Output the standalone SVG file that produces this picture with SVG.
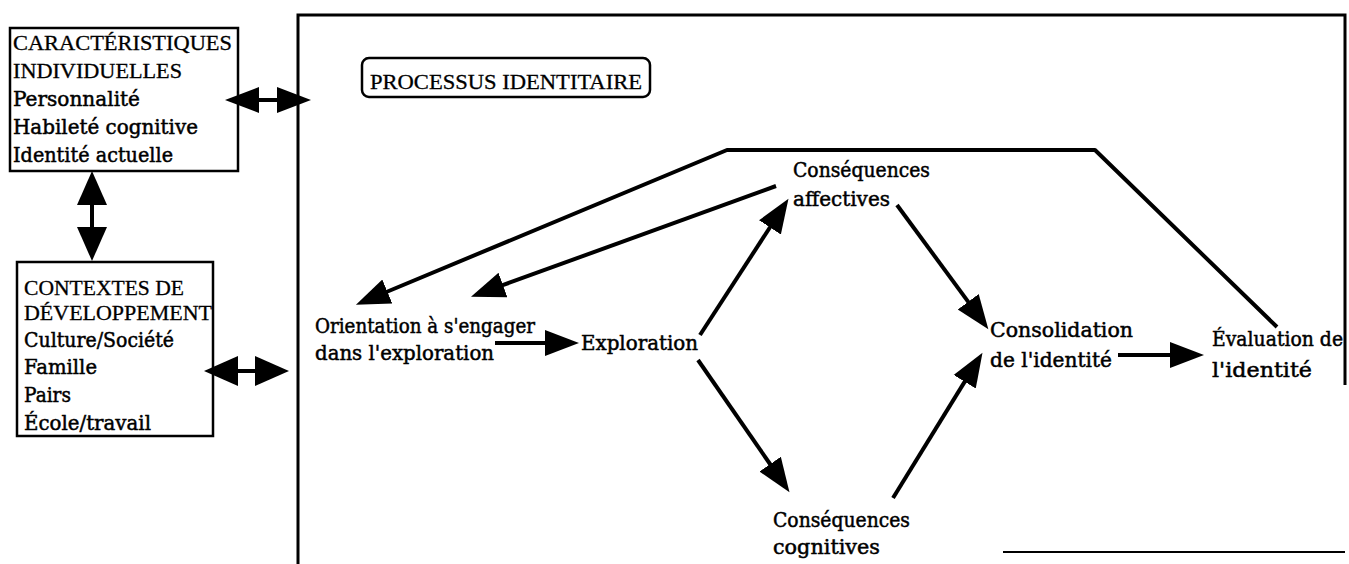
<svg xmlns="http://www.w3.org/2000/svg" width="1349" height="564" viewBox="0 0 1349 564">
<defs>
<style>
.box{fill:#fff;stroke:#000;stroke-width:2.5}
.frame{fill:none;stroke:#000;stroke-width:3}
.t{font-family:"DejaVu Serif","Liberation Serif",serif;font-size:20px;fill:#000;stroke:#000;stroke-width:0.5}
.c{font-family:"Liberation Serif","Times New Roman",serif;font-size:21px;fill:#000;stroke:#000;stroke-width:0.3}
.ln{fill:none;stroke:#000;stroke-width:4;stroke-linejoin:round}
</style>
<marker id="ah" markerUnits="userSpaceOnUse" viewBox="0 -16 36 32" refX="1" refY="0" markerWidth="36" markerHeight="32" orient="auto-start-reverse">
<path d="M0,-13 L34,0 L0,13 z" fill="#000"/>
</marker>
<marker id="ahw" markerUnits="userSpaceOnUse" viewBox="0 -16 36 32" refX="1" refY="0" markerWidth="36" markerHeight="32" orient="auto-start-reverse">
<path d="M0,-15 L34,0 L0,15 z" fill="#000"/>
</marker>
</defs>
<rect width="1349" height="564" fill="#fff"/>

<g id="frame-processus">
<path class="frame" d="M298,564 L298,15 L1345,15 L1345,385"/>
<path d="M1003,552 L1345,552" stroke="#000" stroke-width="2" fill="none"/>
</g>

<g id="node-processus">
<rect x="362" y="58" width="288" height="39" rx="7" fill="#fff" stroke="#000" stroke-width="2.5"/>
<text class="c" x="370" y="89" textLength="272" lengthAdjust="spacingAndGlyphs">PROCESSUS IDENTITAIRE</text>
</g>

<g id="node-caracteristiques">
<rect class="box" x="10" y="28" width="228" height="143"/>
<text class="c" x="13" y="50" textLength="219" lengthAdjust="spacingAndGlyphs">CARACTÉRISTIQUES</text>
<text class="c" x="13" y="78" textLength="169" lengthAdjust="spacingAndGlyphs">INDIVIDUELLES</text>
<text class="t" x="13" y="106" textLength="127" lengthAdjust="spacingAndGlyphs">Personnalité</text>
<text class="t" x="13" y="134" textLength="185" lengthAdjust="spacingAndGlyphs">Habileté cognitive</text>
<text class="t" x="13" y="162" textLength="160" lengthAdjust="spacingAndGlyphs">Identité actuelle</text>
</g>

<g id="node-contextes">
<rect class="box" x="17" y="262" width="196" height="174"/>
<text class="c" x="24" y="295" textLength="160" lengthAdjust="spacingAndGlyphs">CONTEXTES DE</text>
<text class="c" x="24" y="320" textLength="188" lengthAdjust="spacingAndGlyphs">DÉVELOPPEMENT</text>
<text class="t" x="24" y="347" textLength="150" lengthAdjust="spacingAndGlyphs">Culture/Société</text>
<text class="t" x="24" y="374" textLength="73" lengthAdjust="spacingAndGlyphs">Famille</text>
<text class="t" x="24" y="402" textLength="47" lengthAdjust="spacingAndGlyphs">Pairs</text>
<text class="t" x="24" y="430" textLength="127" lengthAdjust="spacingAndGlyphs">École/travail</text>
</g>

<g id="node-orientation">
<text class="t" x="315" y="333" textLength="220" lengthAdjust="spacingAndGlyphs">Orientation à s'engager</text>
<text class="t" x="315" y="360" textLength="179" lengthAdjust="spacingAndGlyphs">dans l'exploration</text>
</g>

<g id="node-exploration">
<text class="t" x="581" y="350" textLength="117" lengthAdjust="spacingAndGlyphs">Exploration</text>
</g>

<g id="node-affectives">
<text class="t" x="793" y="177" textLength="137" lengthAdjust="spacingAndGlyphs">Conséquences</text>
<text class="t" x="793" y="206" textLength="97" lengthAdjust="spacingAndGlyphs">affectives</text>
</g>

<g id="node-cognitives">
<text class="t" x="773" y="527" textLength="137" lengthAdjust="spacingAndGlyphs">Conséquences</text>
<text class="t" x="773" y="554" textLength="107" lengthAdjust="spacingAndGlyphs">cognitives</text>
</g>

<g id="node-consolidation">
<text class="t" x="990" y="337" textLength="143" lengthAdjust="spacingAndGlyphs">Consolidation</text>
<text class="t" x="990" y="367" textLength="122" lengthAdjust="spacingAndGlyphs">de l'identité</text>
</g>

<g id="node-evaluation">
<text class="t" x="1212" y="346" textLength="131" lengthAdjust="spacingAndGlyphs">Évaluation de</text>
<text class="t" x="1212" y="377" textLength="100" lengthAdjust="spacingAndGlyphs">l'identité</text>
</g>

<g id="connectors">
<path class="ln" d="M258,100 L278,100" marker-start="url(#ah)" marker-end="url(#ah)"/>
<path class="ln" d="M92,204 L92,228" marker-start="url(#ahw)" marker-end="url(#ahw)"/>
<path class="ln" d="M237,371 L256,371" marker-start="url(#ahw)" marker-end="url(#ahw)"/>
<path class="ln" d="M495,343 L546,343" marker-end="url(#ah)"/>
<path class="ln" d="M700,335 L770.5,226.5" marker-end="url(#ah)"/>
<path class="ln" d="M698,360 L770.7,465" marker-end="url(#ah)"/>
<path class="ln" d="M897,205 L968.8,302.6" marker-end="url(#ah)"/>
<path class="ln" d="M893,498 L965.2,380.9" marker-end="url(#ah)"/>
<path class="ln" d="M1118,355 L1171,355" marker-end="url(#ah)"/>
<path class="ln" d="M1277,327 L1095,150 L727,150 L386.4,292" marker-end="url(#ah)"/>
<path class="ln" d="M776,186 L502,285.4" marker-end="url(#ah)"/>
</g>
</svg>
